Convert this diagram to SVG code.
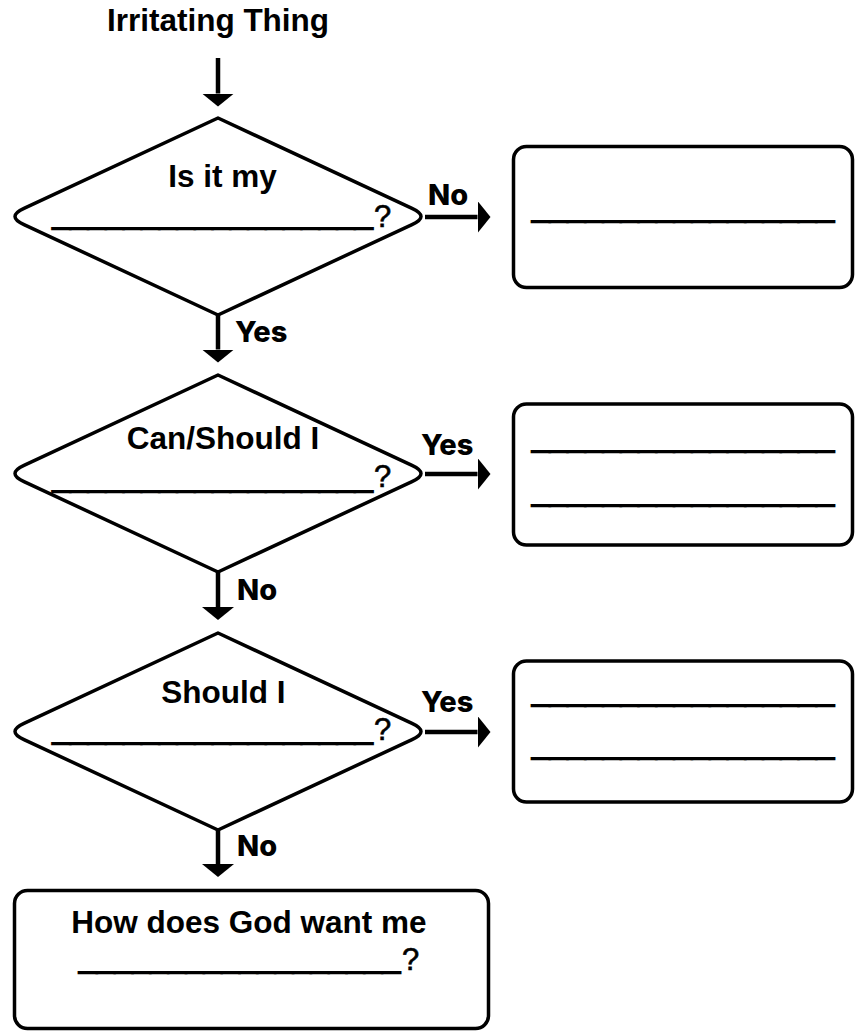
<svg xmlns="http://www.w3.org/2000/svg" width="855" height="1032" viewBox="0 0 855 1032">
<defs>
<style>
.bg{fill:#fff}
.shape{fill:#fff;stroke:#000;stroke-width:3.5;stroke-linejoin:round}
.conn{stroke:#000;stroke-width:4.5;fill:none}
.t{font-family:"Liberation Sans",Arial,sans-serif;font-weight:bold;font-size:31.5px;fill:#000}
.q{font-family:"Liberation Sans",Arial,sans-serif;font-weight:normal;font-size:31px;fill:#000;stroke:#000;stroke-width:0.6}
.u{font-family:"Liberation Sans",Arial,sans-serif;font-weight:bold;font-size:32px;fill:#000;stroke:#000;stroke-width:2.2}
.lbl{font-family:Inter,"Liberation Sans",sans-serif;font-weight:800;font-size:29px;fill:#000}
</style>
<marker id="ah" viewBox="0 0 13 32" refX="0" refY="16" markerWidth="13" markerHeight="32" markerUnits="userSpaceOnUse" orient="auto">
<path d="M0,0 L13,16 L0,32 Z" fill="#000"/>
</marker>
</defs>
<rect class="bg" x="0" y="0" width="855" height="1032"/>

<g id="start">
<text class="t" x="218" y="31" text-anchor="middle">Irritating Thing</text>
</g>

<g id="decision1">
<path class="shape" d="M218,118 L412,208.4 Q430,216.5 412,224.6 L218,315 L24,224.6 Q6,216.5 24,208.4 Z"/>
<text class="t" x="222.5" y="187" text-anchor="middle">Is it my</text>
<text><tspan class="u" x="52.5" y="224.6" textLength="320" lengthAdjust="spacingAndGlyphs">__________________</tspan><tspan class="q" x="374" y="227">?</tspan></text>
</g>

<g id="decision2">
<path class="shape" d="M218,375 L412,465.4 Q430,473.5 412,481.6 L218,572 L24,481.6 Q6,473.5 24,465.4 Z"/>
<text class="t" x="223" y="449" text-anchor="middle">Can/Should I</text>
<text><tspan class="u" x="52.5" y="488" textLength="320" lengthAdjust="spacingAndGlyphs">__________________</tspan><tspan class="q" x="374" y="487">?</tspan></text>
</g>

<g id="decision3">
<path class="shape" d="M218,633 L412,723.4 Q430,731.5 412,739.6 L218,830 L24,739.6 Q6,731.5 24,723.4 Z"/>
<text class="t" x="223.3" y="703" text-anchor="middle">Should I</text>
<text><tspan class="u" x="52.5" y="739.6" textLength="320" lengthAdjust="spacingAndGlyphs">__________________</tspan><tspan class="q" x="374" y="740">?</tspan></text>
</g>

<g id="box1">
<rect class="shape" x="513.5" y="146.5" width="339" height="141" rx="13"/>
<text class="u" x="532" y="218" textLength="302" lengthAdjust="spacingAndGlyphs">_________________</text>
</g>

<g id="box2">
<rect class="shape" x="513.5" y="404" width="339" height="141" rx="13"/>
<text class="u" x="532" y="448" textLength="302" lengthAdjust="spacingAndGlyphs">_________________</text>
<text class="u" x="532" y="501.5" textLength="302" lengthAdjust="spacingAndGlyphs">_________________</text>
</g>

<g id="box3">
<rect class="shape" x="513.5" y="661" width="339" height="141" rx="13"/>
<text class="u" x="532" y="702" textLength="302" lengthAdjust="spacingAndGlyphs">_________________</text>
<text class="u" x="532" y="755" textLength="302" lengthAdjust="spacingAndGlyphs">_________________</text>
</g>

<g id="box4">
<rect class="shape" x="14.5" y="890.5" width="474" height="138" rx="13"/>
<text class="t" x="249" y="933" text-anchor="middle">How does God want me</text>
<text><tspan class="u" x="79" y="968.6" textLength="321" lengthAdjust="spacingAndGlyphs">__________________</tspan><tspan class="q" x="402" y="970">?</tspan></text>
</g>

<g id="connectors">
<line class="conn" x1="218" y1="58" x2="218" y2="93.5" marker-end="url(#ah)"/>
<line class="conn" x1="218" y1="315" x2="218" y2="349.5" marker-end="url(#ah)"/>
<line class="conn" x1="218" y1="572" x2="218" y2="607" marker-end="url(#ah)"/>
<line class="conn" x1="218" y1="830" x2="218" y2="864" marker-end="url(#ah)"/>
<line class="conn" x1="425" y1="217" x2="477.5" y2="217" marker-end="url(#ah)"/>
<line class="conn" x1="425" y1="474" x2="477.5" y2="474" marker-end="url(#ah)"/>
<line class="conn" x1="425" y1="732" x2="477.5" y2="732" marker-end="url(#ah)"/>
<text class="lbl" x="428" y="205">No</text>
<text class="lbl" x="421" y="455">Yes</text>
<text class="lbl" x="421" y="712">Yes</text>
<text class="lbl" x="235" y="342">Yes</text>
<text class="lbl" x="237" y="600">No</text>
<text class="lbl" x="237" y="856">No</text>
</g>
</svg>
